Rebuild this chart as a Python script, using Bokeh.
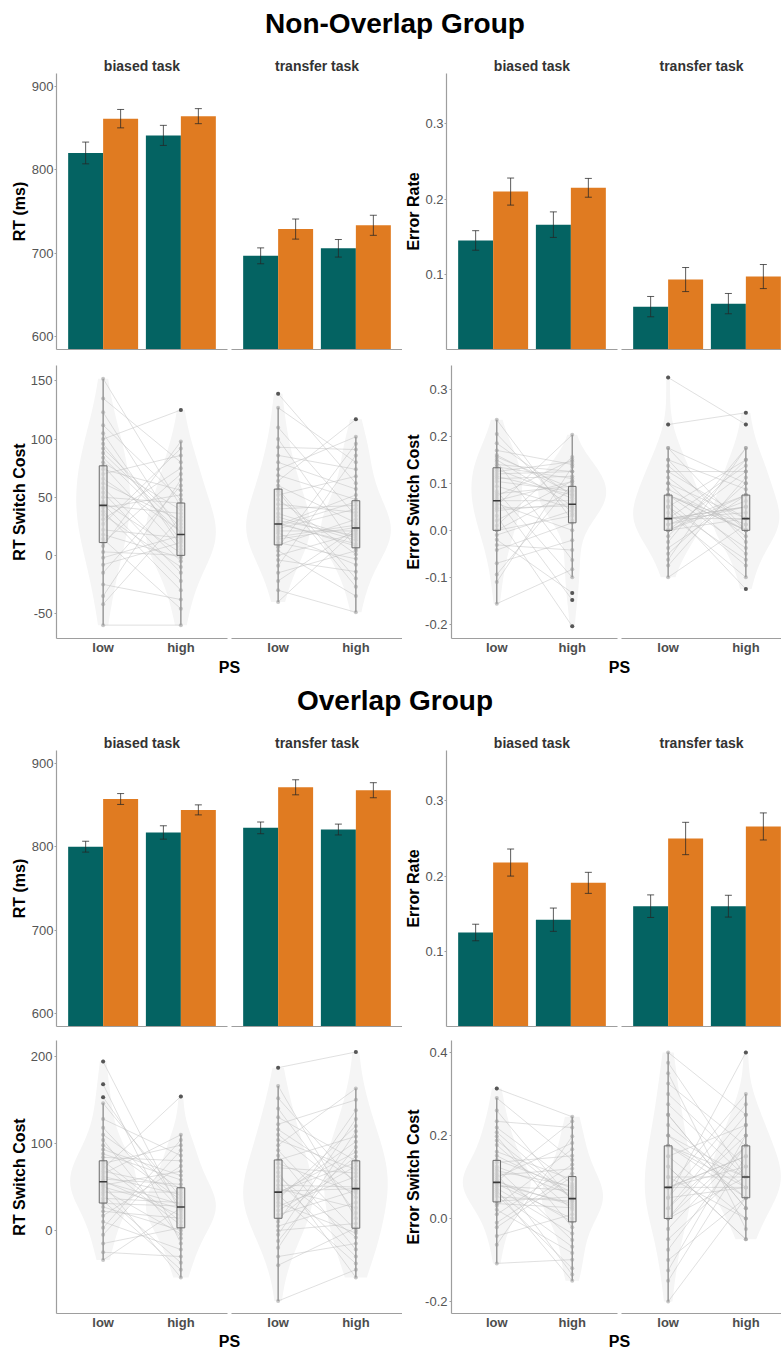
import numpy as np
from bokeh.plotting import figure
from bokeh.layouts import row, column
from bokeh.models import Range1d, FixedTicker, PrintfTickFormatter
from bokeh.embed import file_html
from bokeh.resources import INLINE

# ------------------------------------------------------------------ data
PS_LEVELS = ["low", "high"]
TASKS = ["biased task", "transfer task"]
GROUP_TITLES = ["Non-Overlap Group", "Overlap Group"]

# bar means and SE; order: biased-low, biased-high, transfer-low, transfer-high
NO_RT_REPEAT = [820, 841, 697, 706]
NO_RT_REPEAT_SE = [13, 12, 9.5, 10.5]
NO_RT_SWITCH = [861, 864, 729, 733.5]
NO_RT_SWITCH_SE = [11, 9, 12, 12]
NO_ER_REPEAT = [0.145, 0.166, 0.057, 0.061]
NO_ER_REPEAT_SE = [0.013, 0.017, 0.0135, 0.0135]
NO_ER_SWITCH = [0.210, 0.215, 0.093, 0.097]
NO_ER_SWITCH_SE = [0.018, 0.0125, 0.016, 0.016]
O_RT_REPEAT = [800, 817, 822.5, 820.5]
O_RT_REPEAT_SE = [6.5, 8, 7, 6.5]
O_RT_SWITCH = [857, 844, 871, 867.5]
O_RT_SWITCH_SE = [6.5, 6, 9, 9]
O_ER_REPEAT = [0.125, 0.142, 0.160, 0.160]
O_ER_REPEAT_SE = [0.011, 0.0155, 0.015, 0.0145]
O_ER_SWITCH = [0.218, 0.191, 0.250, 0.266]
O_ER_SWITCH_SE = [0.018, 0.014, 0.0215, 0.018]

# box statistics [whisker low, q1, median, q3, whisker high]
# order: biased-low, biased-high, transfer-low, transfer-high
NO_RT_BOX = [[-60, 11, 43, 77, 152], [-60, 0, 18, 45, 98],
             [-40, 9, 27, 57, 127], [-49, 6.5, 23.5, 47, 102]]
NO_ER_BOX = [[-0.156, 0.0, 0.063, 0.133, 0.235], [-0.100, 0.016, 0.0555, 0.0935, 0.203],
             [-0.100, 0.0, 0.025, 0.075, 0.175], [-0.100, 0.0, 0.025, 0.075, 0.175]]
O_RT_BOX = [[-34, 31.5, 56, 80, 146], [-54, 3, 27, 49, 110],
            [-81, 14, 44, 81, 166], [-54, 2.6, 48, 80, 163]]
O_ER_BOX = [[-0.108, 0.040, 0.087, 0.140, 0.290], [-0.150, -0.008, 0.048, 0.101, 0.245],
            [-0.200, 0.0, 0.075, 0.175, 0.400], [-0.050, 0.050, 0.100, 0.175, 0.300]]

# per-participant switch costs (paired low / high PS)
NO_RT_BIASED_LOW = [77, -15, 44, 123, 8, 58, -42, 96, 31, 14, 152, 46, 3, 70, -60, 88, 22, 41, 105, -8,
                    62, 35, 11, 84, 50, -25, 100, 27, 66, 43, 18, 135, -2, 74, 38, 92, -35, 54, 112, 80]
NO_RT_BIASED_HIGH = [5, 60, -22, 18, 98, -5, 33, 13, 75, -46, 42, 2, 0, 86, -60, 24, 15, 52, 8, 11,
                     30, -10, 70, 19, 45, -38, 125, 92, 21, 36, -2, 80, 17, 56, -30, 27, 65, -15, 48, 39]
NO_RT_TRANSFER_LOW = [23, 100, -9, 57, 14, 139, 33, -30, 74, 9, 48, 26, 0, 86, 19, 40, -40, 64, 27, 110,
                      4, 52, 16, -15, 93, 30, 11, 69, 21, 127, -4, 44, 28, 80, -22, 55, 7, 36, 25, 60]
NO_RT_TRANSFER_HIGH = [40, 6, 86, -20, 24, 62, 13, -49, 102, 31, 1, 52, 19, 74, -8, 43, 22, 117, 10, 34,
                       -35, 68, 26, 4, 91, 17, -3, 48, 21, 80, -14, 37, 8, 57, 23, -27, 96, 15, 46, 28]
NO_ER_BIASED_LOW = [0.063, -0.042, 0.146, 0.000, 0.150, 0.031, -0.156, 0.104, 0.057, 0.170,
                    -0.010, 0.083, 0.130, 0.010, 0.235, -0.094, 0.068, 0.120, 0.042, 0.000,
                    0.125, -0.070, 0.160, 0.052, 0.094, -0.020, 0.110, 0.063, 0.021, 0.205,
                    -0.110, 0.078, 0.135, 0.047, 0.140, -0.031, 0.115, 0.185, 0.073, 0.156]
NO_ER_BIASED_HIGH = [0.104, 0.016, -0.063, 0.085, 0.052, -0.204, -0.083, 0.083, 0.000, 0.140,
                     0.042, -0.100, 0.068, 0.156, 0.021, 0.099, -0.148, 0.125, 0.057, 0.031,
                     0.146, -0.021, 0.078, 0.203, 0.047, -0.133, 0.115, 0.063, 0.105, 0.036,
                     0.135, 0.094, 0.110, 0.052, 0.125, -0.042, 0.075, 0.073, 0.150, 0.089]
NO_ER_TRANSFER_LOW = [0.025, 0.150, -0.050, 0.075, 0.000, 0.325, 0.0125, -0.100, 0.100, 0.050,
                      0.025, 0.175, -0.025, 0.0625, 0.000, 0.125, 0.0375, -0.075, 0.075, 0.225,
                      0.000, 0.1125, 0.025, -0.0125, 0.0875, 0.050, 0.150, 0.000, -0.0625, 0.075,
                      0.0125, 0.1375, 0.025, 0.100, -0.0375, 0.050, 0.175, 0.075, 0.025, 0.125]
NO_ER_TRANSFER_HIGH = [0.050, -0.025, 0.100, 0.000, 0.125, 0.225, 0.075, 0.0125, -0.050, 0.150,
                       0.025, 0.000, 0.175, -0.075, 0.0625, 0.025, -0.100, 0.1125, 0.000, 0.250,
                       0.075, -0.0125, 0.0375, 0.150, 0.000, -0.125, 0.0875, 0.025, 0.175, -0.0375,
                       0.050, 0.000, 0.1375, 0.025, 0.075, -0.0625, 0.100, 0.0125, 0.050, 0.125]
O_RT_BIASED_LOW = [56, 10, 88, -15, 194, 47, 71, 22, 128, 34, 62, -34, 104, 52, 80, 3, 153, 41, 68, 27,
                   98, 57, -5, 168, 44, 74, 17, 118, 54, 93, 31, 65, -25, 146, 50, 84, 37, 110, 59, 77]
O_RT_BIASED_HIGH = [30, -22, 58, 3, 20, -4, 154, 14, 86, -45, 41, 26, -9, 68, 10, 104, 27, -37, 49, 0,
                    35, 17, 92, -15, 44, 6, 74, 23, -54, 63, 28, 110, -30, 38, 25, 80, 32, 47, 53, 98]
O_RT_TRANSFER_LOW = [72, 5, 122, -30, 44, 187, 18, 92, -12, 57, 36, 152, 0, 81, 28, -81, 110, 43, 62, 10,
                     140, 23, -40, 98, 45, 67, 14, 166, -5, 86, 39, 116, 32, -20, 77, 48, 130, 41, 104, 52]
O_RT_TRANSFER_HIGH = [66, 32, 150, -15, 78, 205, 46, 0, 96, -30, 120, 53, 8, 108, 62, -45, 38, 90, -8, 138,
                      20, 74, 3, 163, 48, -54, 85, 14, 128, -22, 102, 57, -3, 114, 43, 26, 80, -38, 70, 50]
O_ER_BIASED_LOW = [0.089, 0.021, 0.161, -0.042, 0.313, 0.068, 0.125, 0.010, 0.198, 0.052,
                   0.099, -0.108, 0.141, 0.083, 0.234, 0.036, 0.109, -0.010, 0.188, 0.073,
                   0.290, 0.042, 0.094, -0.063, 0.151, 0.057, 0.219, 0.083, 0.031, 0.120,
                   -0.021, 0.177, 0.089, 0.260, 0.063, 0.135, 0.078, 0.208, 0.104, 0.115]
O_ER_BIASED_HIGH = [0.031, -0.083, 0.094, 0.010, 0.245, -0.150, 0.057, 0.130, -0.021, 0.042,
                    0.182, -0.099, 0.073, 0.000, 0.219, 0.026, -0.135, 0.109, 0.047, -0.036,
                    0.141, 0.052, -0.008, 0.198, 0.063, -0.120, 0.083, 0.036, 0.167, -0.052,
                    0.101, 0.021, 0.234, 0.042, -0.068, 0.151, 0.068, 0.048, 0.120, 0.078]
O_ER_TRANSFER_LOW = [0.075, -0.100, 0.200, 0.000, 0.400, 0.050, 0.150, -0.200, 0.275, 0.025,
                     0.100, -0.050, 0.175, 0.075, 0.325, 0.000, 0.125, -0.150, 0.250, 0.050,
                     0.075, 0.225, -0.025, 0.175, 0.000, 0.350, 0.100, -0.125, 0.150, 0.075,
                     0.300, 0.025, 0.200, -0.075, 0.125, 0.050, 0.375, 0.075, 0.250, 0.175]
O_ER_TRANSFER_HIGH = [0.150, 0.050, 0.100, 0.175, 0.250, 0.075, 0.225, 0.050, 0.100, 0.200,
                      0.000, 0.125, 0.075, 0.300, 0.175, 0.100, -0.050, 0.150, 0.025, 0.400,
                      0.125, 0.075, 0.175, 0.050, 0.225, -0.025, 0.100, 0.200, 0.000, 0.150,
                      0.125, 0.250, 0.050, 0.175, -0.050, 0.275, 0.100, 0.075, 0.025, 0.100]

# axis ticks and limits
RT_BAR_TICKS = [600, 700, 800, 900]
ER_BAR_TICKS = [0.1, 0.2, 0.3]
NO_RT_SC_TICKS = [-50, 0, 50, 100, 150]
NO_ER_SC_TICKS = [-0.2, -0.1, 0.0, 0.1, 0.2, 0.3]
O_RT_SC_TICKS = [0, 100, 200]
O_ER_SC_TICKS = [-0.2, 0.0, 0.2, 0.4]
RT_BAR_LIM = (585, 915)
ER_BAR_LIM = (0.0, 0.367)
NO_RT_SC_LIM = (-71.5, 163.3)
NO_ER_SC_LIM = (-0.230, 0.3505)
O_RT_SC_LIM = (-95.4, 218.2)
O_ER_SC_LIM = (-0.2287, 0.4287)

# ------------------------------------------------------------------ style / layout
FONT = "Liberation Sans"
TEAL = "#046362"
ORANGE = "#e07b21"
AXIS_COLOR = "#9e9e9e"
TICK_LABEL = "#555555"
VIOLIN = "#f5f5f5"
LINE = "#bdbdbd"
WHISKER = "#8c8c8c"
POINT = "#9a9a9a"
OUTLIER = "#4a4a4a"
BOX_FILL = "#e4e4e4"
BOX_LINE = "#6b6b6b"
MEDIAN = "#3a3a3a"
BW_ADJUST = 1.3

PAGE_W = 781
FACET_W = 171
X0, X_SPAN = 0.4, 2.2
W_F1, LB_F1 = 229, 56
W_F2 = 173
W_F3, LB_F3_BAR, LB_F3_SC = 217, 44, 46
W_F4 = 162
UP = dict(head_h=51, head_top=38, bar_h=306, bar_bb=8, sc_h=300, sc_bt=8, ps_h=21, ps_bb=20)
LO = dict(head_h=50, head_top=37, bar_h=305, bar_bb=7, sc_h=299, sc_bt=7, ps_h=19, ps_bb=17)
STRIP_TOP = 22
SC_BB = 16


def x_end(frame_w):
    return X0 + X_SPAN * frame_w / FACET_W


def kde(vals):
    v = np.asarray(vals, dtype=float)
    n = v.size
    sd = v.std(ddof=1)
    q75, q25 = np.percentile(v, [75, 25])
    bw = BW_ADJUST * 0.9 * min(sd, (q75 - q25) / 1.34) * n ** (-0.2)
    grid = np.linspace(v.min(), v.max(), 160)
    d = np.exp(-0.5 * ((grid[:, None] - v[None, :]) / bw) ** 2).sum(axis=1) / (n * bw * np.sqrt(2 * np.pi))
    return grid, d


def base_fig(width, height, lb, rb, bt, bb, xr, yr, yaxis, strip=None, strip_offset=0):
    p = figure(width=width, height=height, x_range=Range1d(*xr), y_range=Range1d(*yr),
               output_backend="svg", toolbar_location=None,
               min_border_left=lb, min_border_right=rb, min_border_top=bt, min_border_bottom=bb,
               y_axis_location="left" if yaxis else None)
    p.grid.visible = False
    p.outline_line_color = None
    p.background_fill_color = "white"
    p.border_fill_color = "white"
    if strip:
        p.title.text = strip
        p.title.align = "center"
        p.title.standoff = 0
        p.title.offset = strip_offset
        p.title.text_font = FONT
        p.title.text_font_size = "14px"
        p.title.text_font_style = "bold"
        p.title.text_color = "#333333"
    return p


def style_yaxis(p, ticks, fmt, tick_out, standoff, label, label_standoff):
    ax = p.yaxis[0]
    ax.ticker = FixedTicker(ticks=ticks)
    ax.formatter = PrintfTickFormatter(format=fmt)
    ax.axis_line_color = AXIS_COLOR
    ax.axis_line_width = 1.2
    ax.major_tick_line_color = AXIS_COLOR
    ax.major_tick_out = tick_out
    ax.major_tick_in = 0
    ax.minor_tick_line_color = None
    ax.minor_tick_out = 0
    ax.minor_tick_in = 0
    ax.major_label_standoff = standoff
    ax.major_label_text_font = FONT
    ax.major_label_text_font_size = "13px"
    ax.major_label_text_color = TICK_LABEL
    ax.axis_label = label
    ax.axis_label_standoff = label_standoff
    ax.axis_label_text_font = FONT
    ax.axis_label_text_font_size = "16px"
    ax.axis_label_text_font_style = "bold"
    ax.axis_label_text_color = "black"


def style_xaxis(p, labels):
    ax = p.xaxis[0]
    ax.axis_line_color = AXIS_COLOR
    ax.axis_line_width = 1.2
    ax.major_tick_in = 0
    ax.minor_tick_in = 0
    ax.minor_tick_out = 0
    ax.minor_tick_line_color = None
    ax.major_tick_line_color = None
    ax.major_tick_out = 0
    if labels:
        ax.ticker = FixedTicker(ticks=[1, 2])
        ax.major_label_overrides = {1: PS_LEVELS[0], 2: PS_LEVELS[1]}
        ax.major_label_standoff = 1
        ax.major_label_text_font = FONT
        ax.major_label_text_font_size = "13px"
        ax.major_label_text_font_style = "bold"
        ax.major_label_text_color = "#4d4d4d"
    else:
        ax.ticker = FixedTicker(ticks=[])
        ax.major_label_standoff = 0


def bar_facet(width, height, lb, rb, bb, xe, yr, rep, rep_se, sw, sw_se, strip, yaxis=None, strip_offset=0):
    p = base_fig(width, height, lb, rb, STRIP_TOP, bb, (X0, xe), yr, yaxis is not None, strip, strip_offset)
    xs = np.array([1.0, 2.0])
    xr_, xs_ = xs - 0.225, xs + 0.225
    p.vbar(x=xr_, top=rep, bottom=0, width=0.45, fill_color=TEAL, line_color=None)
    p.vbar(x=xs_, top=sw, bottom=0, width=0.45, fill_color=ORANGE, line_color=None)
    xc = np.concatenate([xr_, xs_])
    m = np.array(list(rep) + list(sw), dtype=float)
    se = np.array(list(rep_se) + list(sw_se), dtype=float)
    lo, hi = m - se, m + se
    kw = dict(line_color="#262626", line_alpha=0.75, line_width=1)
    p.segment(x0=xc, y0=lo, x1=xc, y1=hi, **kw)
    p.segment(x0=xc - 0.045, y0=hi, x1=xc + 0.045, y1=hi, **kw)
    p.segment(x0=xc - 0.045, y0=lo, x1=xc + 0.045, y1=lo, **kw)
    style_xaxis(p, False)
    if yaxis is not None:
        style_yaxis(p, *yaxis)
    return p


def sc_facet(width, height, lb, rb, bt, xe, yr, low, high, box_low, box_high, yaxis=None):
    p = base_fig(width, height, lb, rb, bt, SC_BB, (X0, xe), yr, yaxis is not None)
    gl, dl = kde(low)
    gh, dh = kde(high)
    mx = max(dl.max(), dh.max())
    for x0, g, d in ((1.0, gl, dl), (2.0, gh, dh)):
        half = 0.45 * d / mx
        p.patch(np.concatenate([x0 - half, (x0 + half)[::-1]]), np.concatenate([g, g[::-1]]),
                fill_color=VIOLIN, line_color=None)
    n = len(low)
    p.multi_line(xs=[[1, 2]] * n, ys=[[a, b] for a, b in zip(low, high)],
                 line_color=LINE, line_alpha=0.55, line_width=0.85)
    p.segment(x0=[1, 2], y0=[box_low[0], box_high[0]], x1=[1, 2], y1=[box_low[4], box_high[4]],
              line_color=WHISKER, line_width=1.3)
    p.scatter(x=[1] * n + [2] * n, y=list(low) + list(high), size=4,
              fill_color=POINT, fill_alpha=0.55, line_color=None)
    ox, oy = [], []
    for x0, vals, b in ((1, low, box_low), (2, high, box_high)):
        for v in vals:
            if v < b[0] or v > b[4]:
                ox.append(x0)
                oy.append(v)
    if ox:
        p.scatter(x=ox, y=oy, size=4, fill_color=OUTLIER, fill_alpha=0.9, line_color=None)
    p.quad(left=[0.95, 1.95], right=[1.05, 2.05], bottom=[box_low[1], box_high[1]],
           top=[box_low[3], box_high[3]], fill_color=BOX_FILL, fill_alpha=0.6,
           line_color=BOX_LINE, line_width=1)
    p.segment(x0=[0.95, 1.95], x1=[1.05, 2.05], y0=[box_low[2], box_high[2]],
              y1=[box_low[2], box_high[2]], line_color=MEDIAN, line_width=1.6)
    style_xaxis(p, True)
    if yaxis is not None:
        style_yaxis(p, *yaxis)
    return p


def bar_row(G, rt, rt_se, rts, rts_se, er, er_se, ers, ers_se):
    h, bb = G["bar_h"], G["bar_bb"]
    f4_frame = W_F4 - 2
    return row(
        bar_facet(W_F1, h, LB_F1, 2, bb, X0 + X_SPAN, RT_BAR_LIM, rt[0:2], rt_se[0:2], rts[0:2], rts_se[0:2],
                  TASKS[0], (RT_BAR_TICKS, "%d", 2, 1, "RT (ms)", 1)),
        bar_facet(W_F2, h, 2, 0, bb, X0 + X_SPAN, RT_BAR_LIM, rt[2:4], rt_se[2:4], rts[2:4], rts_se[2:4],
                  TASKS[1]),
        bar_facet(W_F3, h, LB_F3_BAR, 2, bb, X0 + X_SPAN, ER_BAR_LIM, er[0:2], er_se[0:2], ers[0:2], ers_se[0:2],
                  TASKS[0], (ER_BAR_TICKS, "%.1f", 2, 1, "Error Rate", 0)),
        bar_facet(W_F4, h, 2, 0, bb, x_end(f4_frame), ER_BAR_LIM, er[2:4], er_se[2:4], ers[2:4], ers_se[2:4],
                  TASKS[1], strip_offset=(FACET_W - f4_frame) / 2),
    )


def sc_row(G, rt_lim, rt_ticks, rt_box, rt_data, er_lim, er_ticks, er_box, er_data):
    h, bt = G["sc_h"], G["sc_bt"]
    f4_frame = W_F4 - 2
    return row(
        sc_facet(W_F1, h, LB_F1, 2, bt, X0 + X_SPAN, rt_lim, rt_data[0], rt_data[1], rt_box[0], rt_box[1],
                 (rt_ticks, "%d", 2, 2, "RT Switch Cost", 0)),
        sc_facet(W_F2, h, 2, 0, bt, X0 + X_SPAN, rt_lim, rt_data[2], rt_data[3], rt_box[2], rt_box[3]),
        sc_facet(W_F3, h, LB_F3_SC, 2, bt, X0 + X_SPAN, er_lim, er_data[0], er_data[1], er_box[0], er_box[1],
                 (er_ticks, "%.1f", 2, 2, "Error Switch Cost", 0)),
        sc_facet(W_F4, h, 2, 0, bt, x_end(f4_frame), er_lim, er_data[2], er_data[3], er_box[2], er_box[3]),
    )


def header(G, text):
    p = figure(width=PAGE_W, height=G["head_h"], x_range=Range1d(0, 1), y_range=Range1d(0, 1),
               output_backend="svg", toolbar_location=None, x_axis_location=None, y_axis_location=None,
               min_border_left=8, min_border_right=0, min_border_top=G["head_top"], min_border_bottom=0)
    p.outline_line_color = None
    p.grid.visible = False
    p.xgrid.grid_line_color = None
    p.ygrid.grid_line_color = None
    p.title.text = text
    p.title.align = "center"
    p.title.standoff = 0
    p.title.text_font = FONT
    p.title.text_font_size = "28px"
    p.title.text_font_style = "bold"
    p.title.text_color = "black"
    return p


def ps_label_fig(width, lb, G):
    p = figure(width=width, height=G["ps_h"], x_range=Range1d(0, 1), y_range=Range1d(0, 1),
               output_backend="svg", toolbar_location=None, y_axis_location=None,
               min_border_left=lb, min_border_right=0, min_border_top=0, min_border_bottom=G["ps_bb"])
    p.outline_line_color = None
    p.grid.visible = False
    p.xgrid.grid_line_color = None
    p.ygrid.grid_line_color = None
    ax = p.xaxis[0]
    ax.ticker = FixedTicker(ticks=[])
    ax.axis_line_color = None
    ax.major_tick_line_color = None
    ax.minor_tick_line_color = None
    ax.major_tick_out = 0
    ax.major_tick_in = 0
    ax.minor_tick_out = 0
    ax.minor_tick_in = 0
    ax.major_label_standoff = 0
    ax.axis_label = "PS"
    ax.axis_label_standoff = 0
    ax.axis_label_text_font = FONT
    ax.axis_label_text_font_size = "16px"
    ax.axis_label_text_font_style = "bold"
    ax.axis_label_text_color = "black"
    return p


def ps_row(G):
    left_w = W_F1 + W_F2
    right_w = PAGE_W - left_w
    return row(ps_label_fig(left_w, LB_F1, G), ps_label_fig(right_w, 55, G))


layout = column(
    header(UP, GROUP_TITLES[0]),
    bar_row(UP, NO_RT_REPEAT, NO_RT_REPEAT_SE, NO_RT_SWITCH, NO_RT_SWITCH_SE,
            NO_ER_REPEAT, NO_ER_REPEAT_SE, NO_ER_SWITCH, NO_ER_SWITCH_SE),
    sc_row(UP, NO_RT_SC_LIM, NO_RT_SC_TICKS, NO_RT_BOX,
           [NO_RT_BIASED_LOW, NO_RT_BIASED_HIGH, NO_RT_TRANSFER_LOW, NO_RT_TRANSFER_HIGH],
           NO_ER_SC_LIM, NO_ER_SC_TICKS, NO_ER_BOX,
           [NO_ER_BIASED_LOW, NO_ER_BIASED_HIGH, NO_ER_TRANSFER_LOW, NO_ER_TRANSFER_HIGH]),
    ps_row(UP),
    header(LO, GROUP_TITLES[1]),
    bar_row(LO, O_RT_REPEAT, O_RT_REPEAT_SE, O_RT_SWITCH, O_RT_SWITCH_SE,
            O_ER_REPEAT, O_ER_REPEAT_SE, O_ER_SWITCH, O_ER_SWITCH_SE),
    sc_row(LO, O_RT_SC_LIM, O_RT_SC_TICKS, O_RT_BOX,
           [O_RT_BIASED_LOW, O_RT_BIASED_HIGH, O_RT_TRANSFER_LOW, O_RT_TRANSFER_HIGH],
           O_ER_SC_LIM, O_ER_SC_TICKS, O_ER_BOX,
           [O_ER_BIASED_LOW, O_ER_BIASED_HIGH, O_ER_TRANSFER_LOW, O_ER_TRANSFER_HIGH]),
    ps_row(LO),
)

open("out.html", "w").write(file_html(layout, INLINE))
